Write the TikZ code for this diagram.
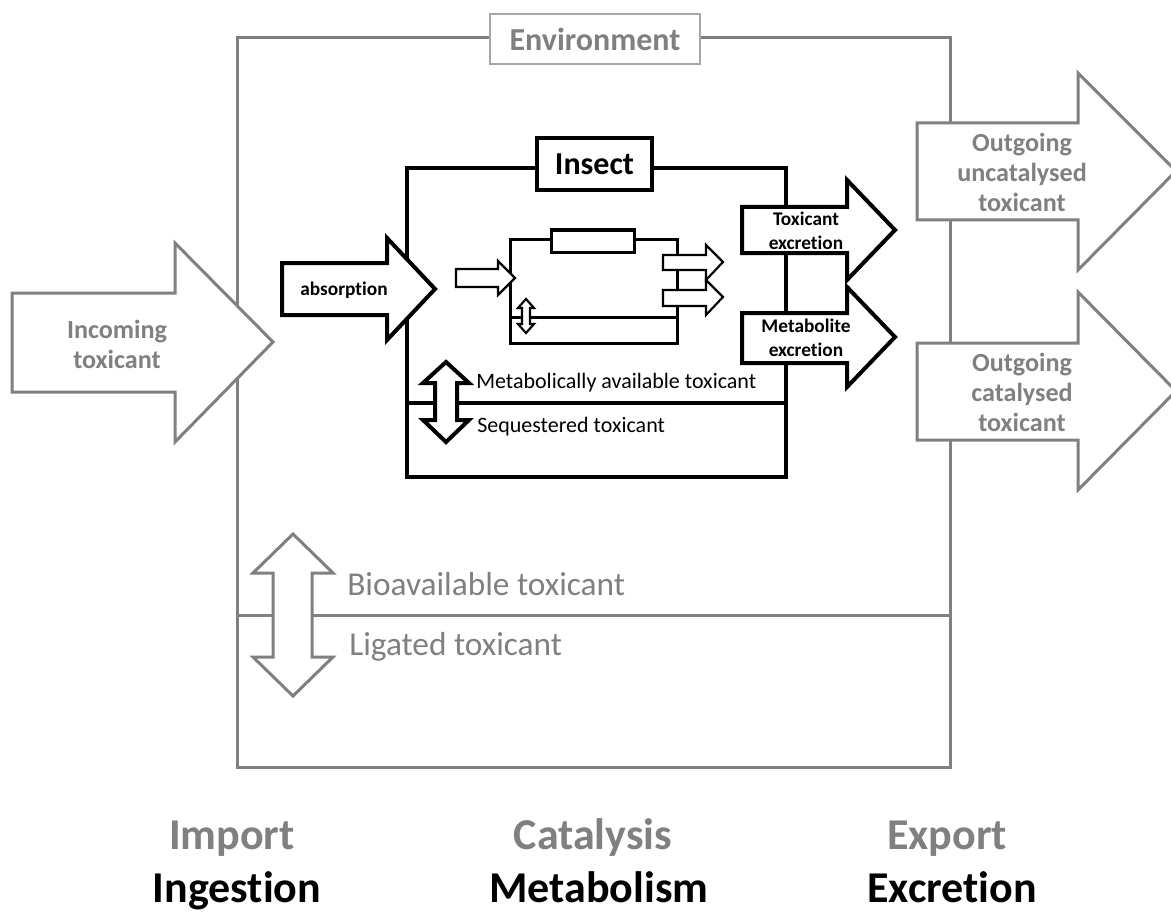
\documentclass[tikz,border=0pt]{standalone}
\usepackage{fontspec}
\setmainfont{Carlito}[Ligatures={NoCommon}]
\definecolor{gr}{RGB}{128,128,128}
\definecolor{grl}{RGB}{166,166,166}
\begin{document}
\begin{tikzpicture}[x=0.75pt,y=-0.75pt,
  grline/.style={draw=gr,line width=2.25pt},
  bkline/.style={draw=black,line width=3pt},
  inline/.style={draw=black,line width=2.25pt},
  grarrow/.style={draw=gr,fill=white,line width=2.25pt,line join=miter},
  bkarrow/.style={draw=black,fill=white,line width=3pt,line join=miter},
  smarrow/.style={draw=black,fill=white,line width=1.6pt,line join=miter},
  bigsub/.style={font=\fontsize{33}{36}\selectfont\bfseries,anchor=base,inner sep=0pt},
  arrtxt/.style={font=\fontsize{19.6}{22.5}\selectfont\bfseries,text=gr,align=center,inner sep=0pt},
  smtxt/.style={font=\fontsize{14.5}{18}\selectfont\bfseries,align=center,inner sep=0pt},
  lvl/.style={font=\fontsize{25}{28}\selectfont,text=gr,anchor=base west,inner sep=0pt},
  ilvl/.style={font=\fontsize{16.5}{19}\selectfont,anchor=base west,inner sep=0pt}
]
\clip (0,0) rectangle (1171,913);
\fill[white] (0,0) rectangle (1171,913);

% ---------- Environment ----------
\draw[grline] (237,38) rectangle (950,767);
\draw[grline] (237,615) -- (950,615);
\node[draw=grl,line width=1.5pt,fill=white,minimum width=157.5pt,minimum height=38pt,
      font=\fontsize{24}{28}\selectfont\bfseries,text=gr,inner sep=0pt] (env) at (595,39) {Environment};

% gray double arrow
\draw[grarrow] (293,534) -- (333,573) -- (312,573) -- (312,657) -- (333,657) -- (293,696)
  -- (253,657) -- (273,657) -- (273,573) -- (253,573) -- cycle;
\node[lvl] (bio) at (347,595) {Bioavailable toxicant};
\node[lvl] (lig) at (349,655) {Ligated toxicant};

% incoming arrow
\draw[grarrow] (12,293) -- (175,293) -- (175,243) -- (273,342) -- (175,442) -- (175,392) -- (12,392) -- cycle;
\node[arrtxt] (inc) at (117,344) {Incoming\\toxicant};

% outgoing arrows
\draw[grarrow] (917,123) -- (1078,123) -- (1078,73) -- (1176,171) -- (1078,270) -- (1078,220) -- (917,220) -- cycle;
\node[arrtxt] (outu) at (1022,172) {Outgoing\\uncatalysed\\toxicant};
\draw[grarrow] (917,343) -- (1078,343) -- (1078,292) -- (1176,391) -- (1078,490) -- (1078,440) -- (917,440) -- cycle;
\node[arrtxt] (outc) at (1022,392) {Outgoing\\catalysed\\toxicant};

% ---------- Insect ----------
\draw[bkline] (407,168) rectangle (786,477);
\draw[bkline] (407,403) -- (786,403);
\node[draw=black,line width=3pt,fill=white,minimum width=86pt,minimum height=39pt,
      font=\fontsize{24}{28}\selectfont\bfseries,inner sep=0pt] (ins) at (594.5,164) {Insect};

% black double arrow
\draw[bkarrow] (446,362) -- (469,383) -- (457,383) -- (457,420) -- (469,420) -- (446,442)
  -- (423,420) -- (435,420) -- (435,383) -- (423,383) -- cycle;
\node[ilvl] (mav) at (476,388) {Metabolically available toxicant};
\node[ilvl] (seq) at (477,432) {Sequestered toxicant};

% absorption
\draw[bkarrow] (282,263) -- (387,263) -- (387,238) -- (435,289) -- (387,340) -- (387,315) -- (282,315) -- cycle;
\node[smtxt] (abs) at (344,290) {absorption};

% excretion arrows
\draw[bkarrow] (742,207) -- (847,207) -- (847,180) -- (895,230) -- (847,280) -- (847,253) -- (742,253) -- cycle;
\node[smtxt] (tex) at (806,231) {Toxicant\\excretion};
\draw[bkarrow] (742,313) -- (847,313) -- (847,287) -- (895,337) -- (847,387) -- (847,363) -- (742,363) -- cycle;
\node[smtxt] (mex) at (806,338) {Metabolite\\excretion};

% ---------- small inner diagram ----------
\draw[inline] (510,239) rectangle (677,343);
\draw[inline] (510,317) -- (677,317);
\draw[inline,fill=white] (551,230) rectangle (634,252);
\draw[smarrow] (456,269) -- (498,269) -- (498,261) -- (515,278) -- (498,295) -- (498,287) -- (456,287) -- cycle;
\draw[smarrow] (663,255) -- (706,255) -- (706,245) -- (723,262) -- (706,280) -- (706,270) -- (663,270) -- cycle;
\draw[smarrow] (663,290) -- (706,290) -- (706,280) -- (723,297) -- (706,315) -- (706,306) -- (663,306) -- cycle;
\draw[smarrow] (526,299) -- (534,308) -- (530,308) -- (530,324) -- (534,324) -- (526,333)
  -- (518,324) -- (522,324) -- (522,308) -- (518,308) -- cycle;

% ---------- bottom labels ----------
\node[bigsub,text=gr] (imp) at (232,849) {Import};
\node[bigsub] (ing) at (237,902) {Ingestion};
\node[bigsub,text=gr] (cat) at (593,849) {Catalysis};
\node[bigsub] (met) at (599,902) {Metabolism};
\node[bigsub,text=gr] (exp) at (947,849) {Export};
\node[bigsub] (exc) at (952,902) {Excretion};
\end{tikzpicture}
\end{document}
